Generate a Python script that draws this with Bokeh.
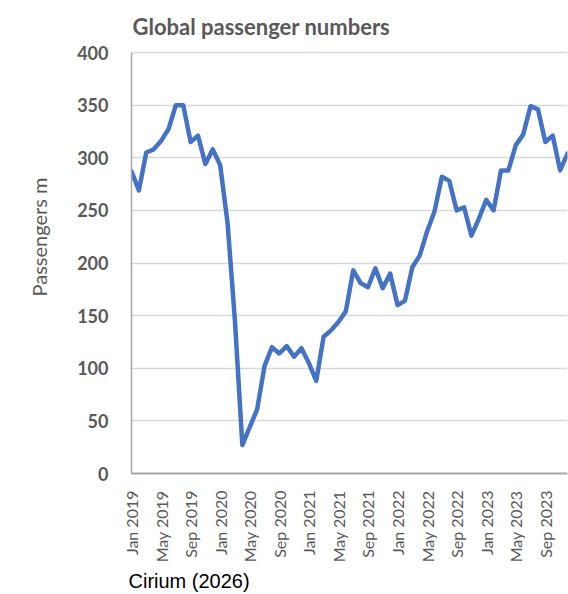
import math
from bokeh.plotting import figure
from bokeh.models import FixedTicker, Label, Title, ColumnDataSource
from bokeh.embed import file_html
from bokeh.resources import INLINE

# ---- data ----
years = [2019, 2020, 2021, 2022, 2023]
month_names = ["Jan", "Feb", "Mar", "Apr", "May", "Jun",
               "Jul", "Aug", "Sep", "Oct", "Nov", "Dec"]
passengers = [287, 269, 305, 308, 316, 327, 350, 350, 315, 321, 294, 308,
              293, 238, 145, 27, 44, 61, 102, 120, 114, 121, 111, 119,
              105, 88, 130, 136, 144, 154, 193, 181, 177, 195, 176, 190,
              160, 164, 196, 207, 230, 249, 282, 278, 250, 253, 226, 242,
              260, 250, 288, 288, 312, 322, 349, 346, 315, 321, 288, 304]
tick_labels = ["Jan 2019", "May 2019", "Sep 2019", "Jan 2020", "May 2020",
               "Sep 2020", "Jan 2021", "May 2021", "Sep 2021", "Jan 2022",
               "May 2022", "Sep 2022", "Jan 2023", "May 2023", "Sep 2023"]
y_ticks = [0, 50, 100, 150, 200, 250, 300, 350, 400]
chart_title = "Global passenger numbers"
y_title = "Passengers m"
source_note = "Cirium (2026)"

months = [f"{m} {y}" for y in years for m in month_names]
idx = list(range(len(passengers)))
src = ColumnDataSource(dict(x=idx, y=passengers, month=months[:len(passengers)]))

tick_pos = [months.index(t) for t in tick_labels]

GRAY = "#595959"
Y_MAX = 400
# headroom above the top gridline so the chart title can sit inside the frame
HEADROOM = 52 * Y_MAX / 421.0

p = figure(width=568, height=594, x_range=(0, len(passengers) - 1),
           y_range=(0, Y_MAX + HEADROOM),
           output_backend="svg", toolbar_location=None,
           min_border_left=131, min_border_right=1, min_border_top=0,
           min_border_bottom=121)
p.title.visible = False
p.outline_line_color = None
p.background_fill_color = "white"
p.border_fill_color = "white"

p.line("x", "y", source=src, line_color="#4472C4", line_width=4.5,
       line_join="round", line_cap="round")

# x axis
xa = p.xaxis[0]
xa.ticker = FixedTicker(ticks=tick_pos)
xa.major_label_overrides = {pos: lab for pos, lab in zip(tick_pos, tick_labels)}
xa.major_label_orientation = math.pi / 2
xa.major_label_text_font = "Lato"
xa.major_label_text_font_size = "16px"
xa.major_label_text_color = GRAY
xa.major_label_standoff = 11
xa.major_tick_line_color = None
xa.minor_tick_line_color = None
xa.axis_line_color = "#a6a6a6"
xa.axis_line_width = 2

# y axis
ya = p.yaxis[0]
ya.ticker = FixedTicker(ticks=y_ticks)
ya.bounds = (0, Y_MAX)
ya.major_label_text_font = "Lato"
ya.major_label_text_font_size = "18px"
ya.major_label_text_font_style = "bold"
ya.major_label_text_color = GRAY
ya.major_label_standoff = 17
ya.major_tick_line_color = None
ya.minor_tick_line_color = None
ya.axis_line_color = "#a6a6a6"
ya.axis_line_width = 1.5
ya.axis_label = y_title
ya.axis_label_text_font = "Lato"
ya.axis_label_text_font_size = "20px"
ya.axis_label_text_font_style = "normal"
ya.axis_label_text_color = GRAY
ya.axis_label_standoff = 23

p.xgrid.grid_line_color = None
p.ygrid.grid_line_color = "#d9d9d9"
p.ygrid.grid_line_width = 1.5

# chart title (inside the frame's headroom, above the top gridline)
p.add_layout(Label(x=0, y=Y_MAX, x_offset=1, y_offset=26, text=chart_title,
                   text_font="Lato", text_font_size="22px", text_font_style="bold",
                   text_color=GRAY, text_align="left", text_baseline="alphabetic"))

# source note
p.add_layout(Title(text=source_note, text_font="Liberation Sans",
                   text_font_size="20px", text_font_style="normal",
                   text_color="black", align="left", offset=-3, standoff=4), "below")

open("out.html", "w").write(file_html(p, INLINE))
